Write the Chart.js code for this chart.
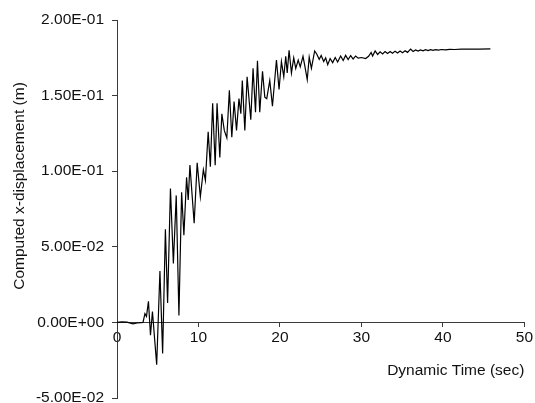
<!DOCTYPE html>
<html>
<head>
<meta charset="utf-8">
<script src="https://cdn.jsdelivr.net/npm/chart.js@4.4.1/dist/chart.umd.min.js"></script>
<style>
  html, body { margin: 0; padding: 0; background: #fff; }
  #wrap { width: 535px; height: 403px; position: relative; }
</style>
</head>
<body>
<div id="wrap"><canvas id="chart" role="img" aria-label="Computed x-displacement (m) versus Dynamic Time (sec)"></canvas></div>
<script>
/* Computed x-displacement time history. */

const timeSec = [
  0.00, 0.61, 1.23, 1.96, 2.45, 2.94, 3.19, 3.43, 3.62, 3.86,
  4.11, 4.35, 4.87, 5.27, 5.60, 5.94, 6.21, 6.56, 6.92, 7.27,
  7.60, 7.93, 8.21, 8.54, 8.74, 8.95, 9.47, 9.84, 10.23, 10.60,
  10.85, 11.19, 11.46, 11.74, 12.05, 12.28, 12.62, 12.87, 13.17, 13.48,
  13.79, 14.09, 14.37, 14.67, 14.97, 15.20, 15.38, 15.69, 15.97, 16.42,
  16.70, 17.00, 17.24, 17.52, 17.86, 18.14, 18.38, 18.75, 19.08, 19.57,
  19.89, 20.18, 20.47, 20.71, 20.89, 21.12, 21.41, 21.69, 21.94, 22.24,
  22.49, 22.83, 23.04, 23.35, 23.59, 23.86, 24.26, 24.51, 24.82, 25.06,
  25.37, 25.61, 25.86, 26.16, 26.47, 26.78, 27.08, 27.45, 27.76, 28.06,
  28.37, 28.68, 28.98, 29.29, 29.60, 30.02, 30.51, 30.88, 31.19, 31.37,
  31.68, 31.99, 32.29, 32.60, 32.90, 33.21, 33.52, 33.82, 34.13, 34.44,
  34.74, 35.05, 35.36, 35.66, 36.03, 36.34, 36.64, 36.95, 37.25, 37.56,
  37.87, 38.17, 38.48, 38.79, 39.09, 39.46, 39.83, 40.32, 40.81, 41.42,
  42.28, 43.26, 44.49, 45.83,
];

const dispX = [
  0.0000, 0.0003, 0.0002, -0.0010, -0.0004, -0.0002, 0.0000, 0.0058, 0.0040, 0.0140,
  -0.0085, 0.0072, -0.0280, 0.0340, -0.0206, 0.0616, 0.0128, 0.0885, 0.0390, 0.0840,
  0.0046, 0.0860, 0.0576, 0.0960, 0.0810, 0.1040, 0.0656, 0.1055, 0.0830, 0.1010,
  0.0940, 0.1260, 0.1030, 0.1450, 0.1040, 0.1450, 0.1090, 0.1380, 0.1270, 0.1220,
  0.1535, 0.1225, 0.1460, 0.1270, 0.1480, 0.1380, 0.1600, 0.1270, 0.1625, 0.1340,
  0.1680, 0.1390, 0.1730, 0.1390, 0.1660, 0.1490, 0.1480, 0.1600, 0.1430, 0.1735,
  0.1540, 0.1725, 0.1625, 0.1760, 0.1650, 0.1800, 0.1650, 0.1750, 0.1680, 0.1735,
  0.1690, 0.1760, 0.1700, 0.1605, 0.1755, 0.1680, 0.1795, 0.1775, 0.1740, 0.1765,
  0.1725, 0.1750, 0.1705, 0.1745, 0.1718, 0.1752, 0.1722, 0.1762, 0.1732, 0.1766,
  0.1738, 0.1765, 0.1742, 0.1762, 0.1748, 0.1752, 0.1745, 0.1760, 0.1785, 0.1762,
  0.1795, 0.1772, 0.1790, 0.1776, 0.1792, 0.1778, 0.1792, 0.1780, 0.1794, 0.1782,
  0.1795, 0.1784, 0.1797, 0.1786, 0.1808, 0.1792, 0.1802, 0.1794, 0.1802, 0.1796,
  0.1804, 0.1798, 0.1804, 0.1799, 0.1804, 0.1801, 0.1805, 0.1803, 0.1806, 0.1805,
  0.1807, 0.1808, 0.1808, 0.1809,
];

const xTicks = [0, 10, 20, 30, 40, 50];
const yTicks = [-0.05, 0, 0.05, 0.1, 0.15, 0.2];
const yTickLabels = ["-5.00E-02", "0.00E+00", "5.00E-02", "1.00E-01", "1.50E-01", "2.00E-01"];

const X_TITLE = "Dynamic Time (sec)";
const Y_TITLE = "Computed x-displacement (m)";

const FONT = "'Liberation Sans', Arial, Helvetica, sans-serif";
const AXIS = "#3a3a3a";
const INK = "#111";

// y title drawn by hand so it sits where the original put it (a bit above plot centre)
const yTitlePlugin = {
  id: "yTitle",
  afterDraw(chart) {
    const { ctx } = chart;
    ctx.save();
    ctx.translate(20, 186);
    ctx.rotate(-Math.PI / 2);
    ctx.font = `15.5px ${FONT}`;
    ctx.fillStyle = INK;
    ctx.textAlign = "center";
    ctx.textBaseline = "middle";
    ctx.fillText(Y_TITLE, 0, 0);
    ctx.restore();
  },
};

Chart.defaults.font.family = FONT;
Chart.defaults.font.size = 15.5;
Chart.defaults.color = INK;

new Chart(document.getElementById("chart").getContext("2d"), {
  type: "line",
  data: {
    datasets: [{
      data: timeSec.map((t, i) => ({ x: t, y: dispX[i] })),
      borderColor: "#000",
      borderWidth: 1.2,
      pointRadius: 0,
      tension: 0,
      fill: false,
    }],
  },
  options: {
    responsive: true,
    maintainAspectRatio: false,
    animation: false,
    layout: { padding: { top: 20, right: 10, bottom: 5, left: 0 } },
    plugins: { legend: { display: false }, tooltip: { enabled: false } },
    scales: {
      x: {
        type: "linear",
        position: { y: 0 },
        min: 0, max: 50,
        afterBuildTicks: (s) => { s.ticks = xTicks.map((v) => ({ value: v })); },
        ticks: { padding: 2, color: INK, maxRotation: 0 },
        grid: { drawOnChartArea: false, drawTicks: true, tickLength: 4, color: AXIS },
        border: { display: true, color: AXIS, width: 1 },
        title: { display: true, text: X_TITLE, align: "end", color: INK, padding: { top: 12, bottom: 0 } },
      },
      y: {
        type: "linear",
        min: -0.05, max: 0.2,
        afterBuildTicks: (s) => { s.ticks = yTicks.map((v) => ({ value: v })); },
        afterFit: (s) => { s.width = 117; s.paddingTop = 0; s.paddingBottom = 0; },
        ticks: { padding: 8, color: INK, callback: (v, i) => yTickLabels[i] },
        grid: { drawOnChartArea: false, drawTicks: true, tickLength: 5, color: AXIS },
        border: { display: true, color: AXIS, width: 1 },
      },
    },
  },
  plugins: [yTitlePlugin],
});
</script>
</body>
</html>
